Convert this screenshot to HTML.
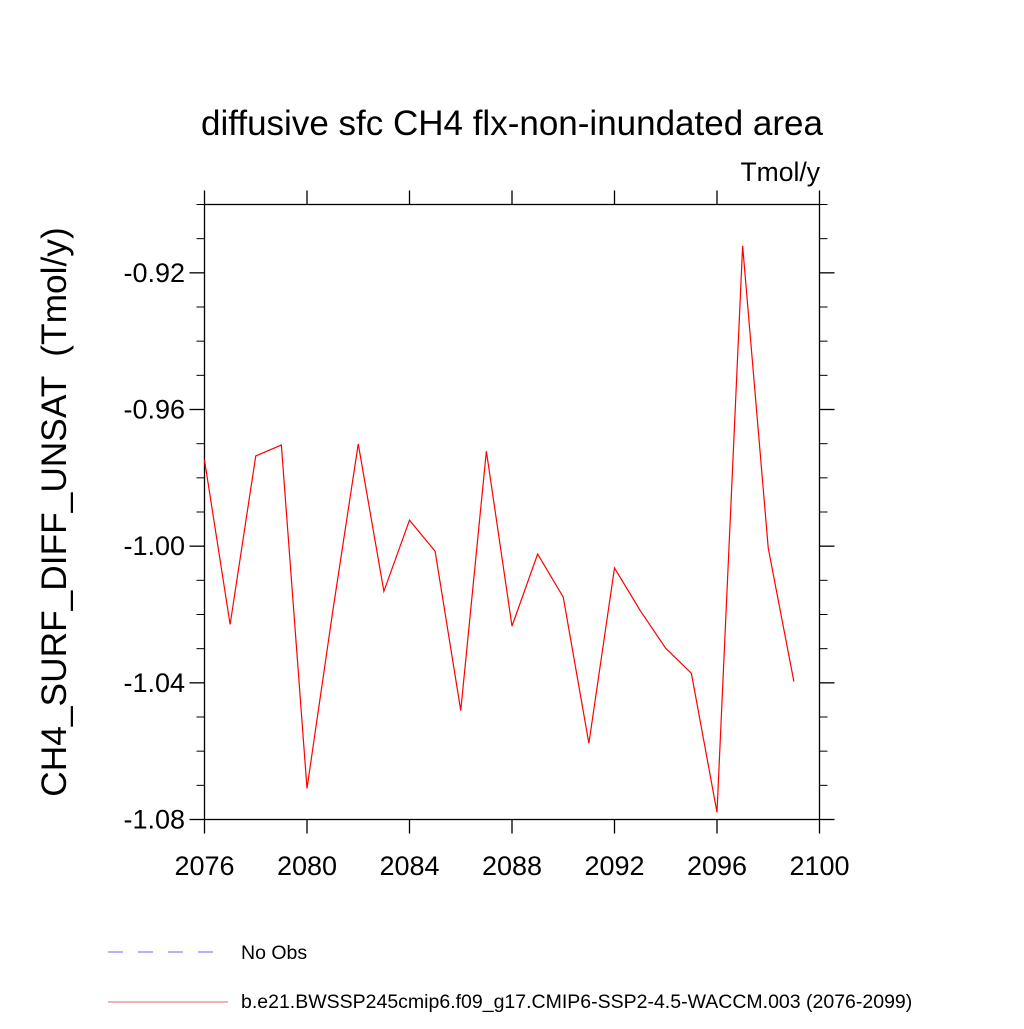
<!DOCTYPE html>
<html><head><meta charset="utf-8"><style>
html,body{margin:0;padding:0;background:#fff;}
svg text{font-family:"Liberation Sans",Helvetica,Arial,sans-serif;}
</style></head><body>
<svg id="chart" width="1024" height="1024" xmlns="http://www.w3.org/2000/svg">
<text x="512" y="135" font-size="35" text-anchor="middle">diffusive sfc CH4 flx-non-inundated area</text>
<text x="820" y="181" font-size="26.5" text-anchor="end">Tmol/y</text>
<text transform="translate(66,512) rotate(-90)" font-size="35.3" text-anchor="middle" xml:space="preserve">CH4_SURF_DIFF_UNSAT  (Tmol/y)</text>
<g id="axes"></g>
<g id="series"></g>
<g>
<line x1="108" y1="952" x2="216" y2="952" stroke="#6666ff" stroke-width="1" stroke-dasharray="15,15"/>
<text x="241" y="959" font-size="19.5">No Obs</text>
<line x1="108" y1="1002" x2="228" y2="1002" stroke="#e06666" stroke-width="1"/>
<text x="241" y="1008" font-size="19.5">b.e21.BWSSP245cmip6.f09_g17.CMIP6-SSP2-4.5-WACCM.003 (2076-2099)</text>
</g>
</svg>
<script>
const years=[2076,2077,2078,2079,2080,2081,2082,2083,2084,2085,2086,2087,2088,2089,2090,2091,2092,2093,2094,2095,2096,2097,2098,2099];
const values=[-0.9748,-1.0229,-0.9736,-0.9704,-1.0709,-1.0193,-0.9701,-1.0132,-0.9924,-1.0015,-1.0481,-0.9722,-1.0234,-1.0023,-1.0149,-1.0577,-1.0064,-1.0188,-1.0299,-1.0372,-1.0779,-0.9121,-1.0006,-1.0396];
const xTicks=[2076,2080,2084,2088,2092,2096,2100];
const yTicks=[-0.92,-0.96,-1.00,-1.04,-1.08];
const yTickLabels=["-0.92","-0.96","-1.00","-1.04","-1.08"];
const L=204.5,R=819.5,T=204.5,B=819.5;
const x=v=>L+(v-2076)/24*(R-L);
const y=v=>B-(v+1.08)/0.18*(B-T);
const NS="http://www.w3.org/2000/svg";
const ax=document.getElementById('axes');
function ln(x1,y1,x2,y2,name,w){const l=document.createElementNS(NS,'line');
l.setAttribute('x1',x1);l.setAttribute('y1',y1);l.setAttribute('x2',x2);l.setAttribute('y2',y2);
l.setAttribute('stroke','#000');l.setAttribute('stroke-width',w||1.3);


ax.appendChild(l);}
function tx(xx,yy,s,anchor,name){const t=document.createElementNS(NS,'text');
t.setAttribute('x',xx);t.setAttribute('y',yy);t.setAttribute('font-size','27');t.setAttribute('text-anchor',anchor);t.textContent=s;


ax.appendChild(t);}
const r=document.createElementNS(NS,'rect');
r.setAttribute('x',L);r.setAttribute('y',T);r.setAttribute('width',R-L);r.setAttribute('height',B-T);
r.setAttribute('fill','none');r.setAttribute('stroke','#000');r.setAttribute('stroke-width','1.3');


ax.appendChild(r);
xTicks.forEach(v=>{const px=x(v);ln(px,B,px,B+14,'x-tick');ln(px,T,px,T-14,'x-tick-top');tx(px,875,String(v),'middle','x-tick-label');});
yTicks.forEach((v,i)=>{const py=y(v);ln(L,py,L-15,py,'y-tick');ln(R,py,R+15,py,'y-tick-right');tx(185,py+9,yTickLabels[i],'end','y-tick-label');});
for(let k=0;k<=18;k++){const v=-1.08+k*0.01;if(Math.abs(Math.round(v*100)%4)===0)continue;const py=y(v);
ln(L,py,L-8,py,'y-minor-tick',1);ln(R,py,R+8,py,'y-minor-tick-right',1);}
const p=document.createElementNS(NS,'polyline');
p.setAttribute('points',years.map((yr,i)=>x(yr)+','+y(values[i])).join(' '));
p.setAttribute('fill','none');p.setAttribute('stroke','#ff0000');p.setAttribute('stroke-width','1.2');


document.getElementById('series').appendChild(p);
</script>
</body></html>
